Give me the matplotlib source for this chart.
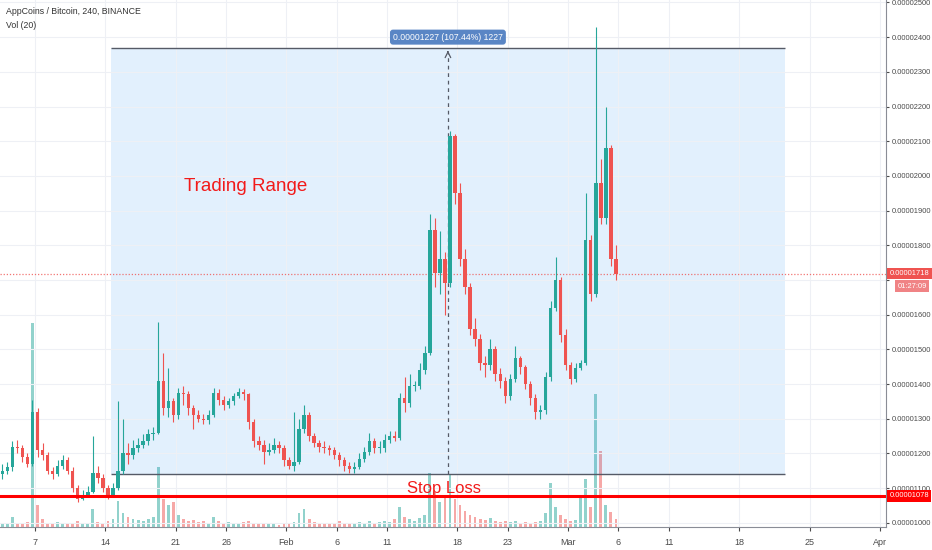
import numpy as np
import matplotlib
matplotlib.use("Agg")
import matplotlib.pyplot as plt
from matplotlib.patches import Rectangle
import matplotlib.transforms as mtransforms

first_day = 2.5        # days after 1 Jan 2018
candle_len = 0.5       # days per candle
first_open = 1140

close_sat = [1150, 1160, 1220, 1215, 1190, 1170, 1320, 1210, 1195, 1150,
             1140, 1165, 1180, 1150, 1100, 1070, 1080, 1090, 1145, 1130,
             1100, 1080, 1100, 1150, 1200, 1195, 1215, 1225, 1235, 1255,
             1260, 1410, 1330, 1350, 1310, 1375, 1370, 1330, 1310, 1300,
             1295, 1310, 1375, 1355, 1340, 1350, 1365, 1378, 1370, 1290,
             1235, 1225, 1205, 1210, 1225, 1215, 1180, 1165, 1175, 1270,
             1310, 1250, 1230, 1220, 1215, 1210, 1195, 1180, 1165, 1155,
             1160, 1185, 1205, 1235, 1215, 1215, 1240, 1250, 1245, 1360,
             1345, 1395, 1395, 1440, 1490, 1845, 1720, 1760, 1690, 2115,
             1950, 1760, 1680, 1560, 1530, 1460, 1455, 1500, 1430, 1410,
             1365, 1415, 1475, 1450, 1400, 1360, 1320, 1325, 1420, 1620,
             1700, 1540, 1455, 1415, 1445, 1460, 1815, 1660, 1980, 1880,
             2080, 1760, 1718]

high_sat = [1170, 1175, 1235, 1240, 1225, 1200, 1355, 1330, 1230, 1205,
            1160, 1180, 1195, 1190, 1160, 1110, 1095, 1105, 1250, 1165,
            1140, 1110, 1115, 1350, 1300, 1230, 1240, 1245, 1255, 1270,
            1275, 1580, 1490, 1445, 1360, 1390, 1395, 1380, 1340, 1325,
            1315, 1325, 1390, 1385, 1365, 1360, 1375, 1390, 1385, 1375,
            1300, 1250, 1240, 1230, 1245, 1235, 1225, 1190, 1320, 1300,
            1340, 1320, 1260, 1240, 1235, 1225, 1220, 1205, 1190, 1175,
            1175, 1200, 1220, 1260, 1245, 1235, 1255, 1265, 1265, 1375,
            1420, 1430, 1410, 1460, 1510, 1890, 1880, 1840, 1780, 2130,
            2120, 1980, 1790, 1690, 1590, 1545, 1480, 1530, 1510, 1445,
            1420, 1430, 1510, 1480, 1455, 1410, 1370, 1340, 1435, 1640,
            1765, 1710, 1560, 1465, 1460, 1470, 1950, 1830, 2430, 2050,
            2200, 2090, 1800]

low_sat = [1125, 1140, 1150, 1200, 1175, 1160, 1165, 1190, 1180, 1140,
           1125, 1135, 1155, 1140, 1090, 1060, 1065, 1075, 1085, 1115,
           1090, 1070, 1075, 1095, 1140, 1170, 1185, 1205, 1215, 1225,
           1240, 1255, 1310, 1305, 1290, 1300, 1340, 1310, 1270, 1290,
           1285, 1285, 1305, 1340, 1325, 1330, 1340, 1360, 1355, 1270,
           1220, 1210, 1170, 1195, 1200, 1200, 1165, 1155, 1150, 1170,
           1260, 1235, 1220, 1205, 1200, 1195, 1185, 1165, 1150, 1145,
           1145, 1155, 1175, 1195, 1200, 1200, 1205, 1230, 1235, 1240,
           1320, 1335, 1380, 1385, 1430, 1485, 1680, 1660, 1600, 1680,
           1920, 1740, 1660, 1540, 1510, 1440, 1420, 1440, 1410, 1390,
           1345, 1355, 1405, 1430, 1385, 1340, 1300, 1300, 1315, 1410,
           1610, 1520, 1440, 1400, 1405, 1440, 1455, 1640, 1650, 1860,
           1860, 1740, 1700]

volume_k = [40, 30, 100, 40, 30, 50, 2040, 220, 80, 40,
            30, 50, 40, 30, 40, 60, 40, 30, 180, 50,
            40, 60, 80, 260, 140, 100, 80, 70, 60, 80,
            100, 600, 280, 220, 250, 120, 80, 60, 70, 50,
            60, 40, 100, 60, 40, 50, 40, 30, 50, 60,
            40, 30, 40, 30, 30, 20, 30, 40, 50, 140,
            180, 80, 50, 40, 30, 30, 40, 60, 30, 30,
            40, 50, 40, 60, 40, 50, 60, 50, 80, 200,
            100, 80, 60, 90, 120, 540, 350, 250, 300, 530,
            280, 220, 160, 120, 100, 80, 70, 90, 60, 50,
            60, 50, 60, 40, 50, 40, 50, 60, 140, 440,
            200, 120, 80, 60, 70, 300, 480, 200, 1330, 760,
            220, 150, 80]

tick_days = [6, 13, 20, 25, 31, 36, 41, 48, 53, 59, 64, 69, 76, 83, 90]
tick_labels = ["7", "14", "21", "26", "Feb", "6", "11", "18", "23",
               "Mar", "6", "11", "18", "25", "Apr"]

# drawings on the chart
range_low, range_high = 1142, 2369
range_start, range_end = 13.55, 80.55
measure_day = 47.05
measure_text = "0.00001227 (107.44%) 1227"
stop_loss = 1078
last_price = 1718
countdown = "01:27:09"

font = ["Liberation Sans", "DejaVu Sans"]
up_col = "#26a69a"
down_col = "#ef5350"

n = len(close_sat)
x = first_day + candle_len * (np.arange(n) + 0.5)
open_sat = [first_open] + close_sat[:-1]
up = np.array(close_sat) >= np.array(open_sat)
colors = [up_col if u else down_col for u in up]

fig = plt.figure(figsize=(9.32, 5.5), dpi=100)
ax = fig.add_axes([0, 23 / 550, 886 / 932, 527 / 550])
ax.set_xlim(2.52, 90.6)
ax.set_ylim(988, 2507)

# volume behind the price
vax = ax.twinx()
vax.set_zorder(ax.get_zorder() - 1)
ax.patch.set_visible(False)
vax.bar(x, volume_k, width=0.28, color=colors, alpha=0.5, linewidth=0)
vax.set_ylim(0, 5270)
vax.axis("off")

ax.grid(color="#eef0f5", lw=0.8)
ax.set_axisbelow(True)

# trading range box
ax.add_patch(Rectangle((range_start, range_low), range_end - range_start,
                       range_high - range_low, facecolor="#218cf2", alpha=0.13,
                       edgecolor="none", zorder=0.5))
ax.hlines([range_low, range_high], range_start, range_end, color="#555a66", lw=1, zorder=1)
ax.vlines(measure_day, range_low, range_high - 15, color="#555a66", lw=0.9,
          linestyles=(0, (3, 3)), zorder=1)
ax.annotate("", xy=(measure_day, range_high), xytext=(measure_day, range_high - 20),
            arrowprops=dict(arrowstyle="->", color="#555a66", lw=0.9), zorder=1)
ax.text(measure_day, 2400, measure_text, ha="center", va="center", color="white",
        fontsize=6.2, family=font,
        bbox=dict(boxstyle="round,pad=0.35", fc="#5a86c5", ec="none"))

# candles
ax.vlines(x, low_sat, high_sat, colors=colors, lw=0.8, zorder=2)
body_low = np.minimum(open_sat, close_sat)
body_h = np.maximum(np.abs(np.array(close_sat) - np.array(open_sat)), 3)
ax.bar(x, body_h, bottom=body_low, width=0.34, color=colors, linewidth=0, zorder=2.5)

# lines and labels
ax.axhline(last_price, color=down_col, lw=0.9, ls=(0, (1, 1.5)), alpha=0.8, zorder=1.5)
ax.axhline(stop_loss, color="#ff0000", lw=2.2, zorder=3)
ax.text(20.8, 1970, "Trading Range", color="#f21a1a", fontsize=13.5, family=font,
        ha="left", va="center")
ax.text(46.65, 1087, "Stop Loss", color="#f21a1a", fontsize=12, family=font,
        ha="center", va="baseline")

trans = mtransforms.blended_transform_factory(ax.transAxes, ax.transData)
box_font = dict(transform=trans, color="white", fontsize=5.4, family=font,
                ha="left", va="center", clip_on=False, zorder=5)
ax.text(1.004, last_price, f"{last_price * 1e-8:.8f}",
        bbox=dict(boxstyle="square,pad=0.3", fc=down_col, ec="none"), **box_font)
ax.text(1.013, last_price - 36, countdown,
        bbox=dict(boxstyle="square,pad=0.3", fc="#f08385", ec="none"), **box_font)
ax.text(1.004, stop_loss, f"{stop_loss * 1e-8:.8f}",
        bbox=dict(boxstyle="square,pad=0.3", fc="#ff0000", ec="none"), **box_font)

# axes
hidden = [1700]    # price label hidden behind the last-price tag
ax.yaxis.tick_right()
ax.set_yticks(range(1000, 2600, 100))
ax.yaxis.set_major_formatter(
    plt.FuncFormatter(lambda v, p: "" if round(v) in hidden else f"{v * 1e-8:.8f}"))
ax.set_xticks(tick_days, tick_labels)
ax.tick_params(axis="y", labelsize=5.4, colors="#4a4a4a", length=2.5, width=0.8, pad=1.5)
ax.tick_params(axis="x", labelsize=6.5, colors="#4a4a4a", length=3, width=0.8, pad=5)
for lab in ax.get_xticklabels() + ax.get_yticklabels():
    lab.set_family(font)
for s in ["top", "left"]:
    ax.spines[s].set_visible(False)
for s in ["right", "bottom"]:
    ax.spines[s].set_color("#8a8d96")

fig.text(6 / 932, 1 - 12 / 550, "AppCoins / Bitcoin, 240, BINANCE", fontsize=6.3,
         color="#333333", va="center", family=font)
fig.text(6 / 932, 1 - 26 / 550, "Vol (20)", fontsize=6.3, color="#333333",
         va="center", family=font)

fig.savefig("out.png", dpi=100, facecolor="white")
